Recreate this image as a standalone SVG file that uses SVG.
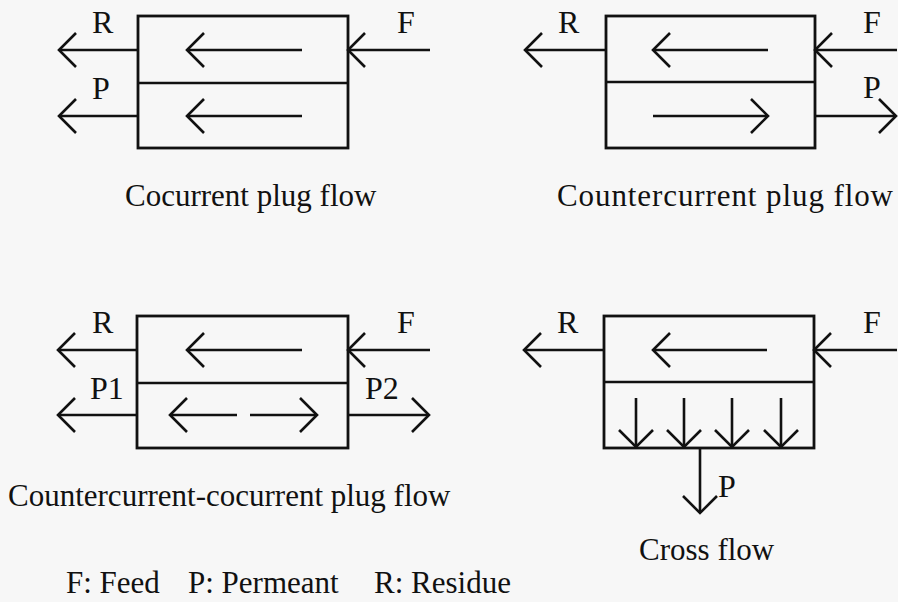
<svg xmlns="http://www.w3.org/2000/svg" width="898" height="602" viewBox="0 0 898 602">
<style>
.box{fill:none;stroke:#111;stroke-width:2.8}
.div{stroke:#111;stroke-width:2.6}
.flow{fill:none;stroke:#111;stroke-width:2.6;marker-end:url(#chev)}
text{font-family:"Liberation Serif","Times New Roman",serif;font-size:32px;fill:#111}
.cap{font-size:31px}
</style>
<defs>
<marker id="chev" viewBox="-20 -20 24 40" markerWidth="24" markerHeight="40" refX="0" refY="0" orient="auto" markerUnits="userSpaceOnUse">
<path d="M-17,-17 L0,0 L-17,17" fill="none" stroke="#111" stroke-width="2.6"/>
</marker>
</defs>
<rect width="898" height="602" fill="#f7f7f7"/>

<g id="cocurrent">
<rect class="box" x="138" y="16" width="210" height="132"/>
<line class="div" x1="138" y1="83" x2="348" y2="83"/>
<text x="92" y="33">R</text>
<text x="397" y="33">F</text>
<text x="92" y="99">P</text>
<text class="cap" x="125" y="206">Cocurrent plug flow</text>
</g>

<g id="countercurrent">
<rect class="box" x="606" y="16" width="209" height="132"/>
<line class="div" x1="606" y1="82" x2="815" y2="82"/>
<text x="558" y="33">R</text>
<text x="863" y="33">F</text>
<text x="863" y="98">P</text>
<text class="cap" x="557" y="206" textLength="336">Countercurrent plug flow</text>
</g>

<g id="counter-cocurrent">
<rect class="box" x="137" y="316" width="211" height="132"/>
<line class="div" x1="137" y1="383" x2="348" y2="383"/>
<text x="92" y="333">R</text>
<text x="397" y="333">F</text>
<text x="90" y="399">P1</text>
<text x="365" y="399">P2</text>
<text class="cap" x="8" y="506">Countercurrent-cocurrent plug flow</text>
</g>

<g id="crossflow">
<rect class="box" x="604" y="316" width="210" height="132"/>
<line class="div" x1="604" y1="382" x2="814" y2="382"/>
<text x="557" y="333">R</text>
<text x="863" y="333">F</text>
<text x="718" y="497">P</text>
<text class="cap" x="639" y="560">Cross flow</text>
</g>

<g id="legend">
<text class="cap" x="66" y="593">F: Feed</text>
<text class="cap" x="188" y="593">P: Permeant</text>
<text class="cap" x="374" y="593">R: Residue</text>
</g>

<g id="connectors">
<line class="flow" x1="138" y1="50" x2="59" y2="50"/>
<line class="flow" x1="302" y1="50" x2="187" y2="50"/>
<line class="flow" x1="430" y1="50" x2="348" y2="50"/>
<line class="flow" x1="138" y1="116" x2="59" y2="116"/>
<line class="flow" x1="302" y1="116" x2="187" y2="116"/>
<line class="flow" x1="606" y1="50" x2="525" y2="50"/>
<line class="flow" x1="768" y1="50" x2="653" y2="50"/>
<line class="flow" x1="897" y1="50" x2="815" y2="50"/>
<line class="flow" x1="653" y1="116" x2="768" y2="116"/>
<line class="flow" x1="815" y1="116" x2="896" y2="116"/>
<line class="flow" x1="137" y1="350" x2="58" y2="350"/>
<line class="flow" x1="302" y1="350" x2="187" y2="350"/>
<line class="flow" x1="430" y1="350" x2="348" y2="350"/>
<line class="flow" x1="137" y1="415" x2="58" y2="415"/>
<line class="flow" x1="237" y1="415" x2="170" y2="415"/>
<line class="flow" x1="250" y1="415" x2="317" y2="415"/>
<line class="flow" x1="348" y1="415" x2="429" y2="415"/>
<line class="flow" x1="604" y1="350" x2="524" y2="350"/>
<line class="flow" x1="767" y1="350" x2="653" y2="350"/>
<line class="flow" x1="897" y1="350" x2="814" y2="350"/>
<line class="flow" x1="636" y1="398" x2="636" y2="447"/>
<line class="flow" x1="684" y1="398" x2="684" y2="447"/>
<line class="flow" x1="732" y1="398" x2="732" y2="447"/>
<line class="flow" x1="781" y1="398" x2="781" y2="447"/>
<line class="flow" x1="700" y1="448" x2="700" y2="513"/>
</g>
</svg>
